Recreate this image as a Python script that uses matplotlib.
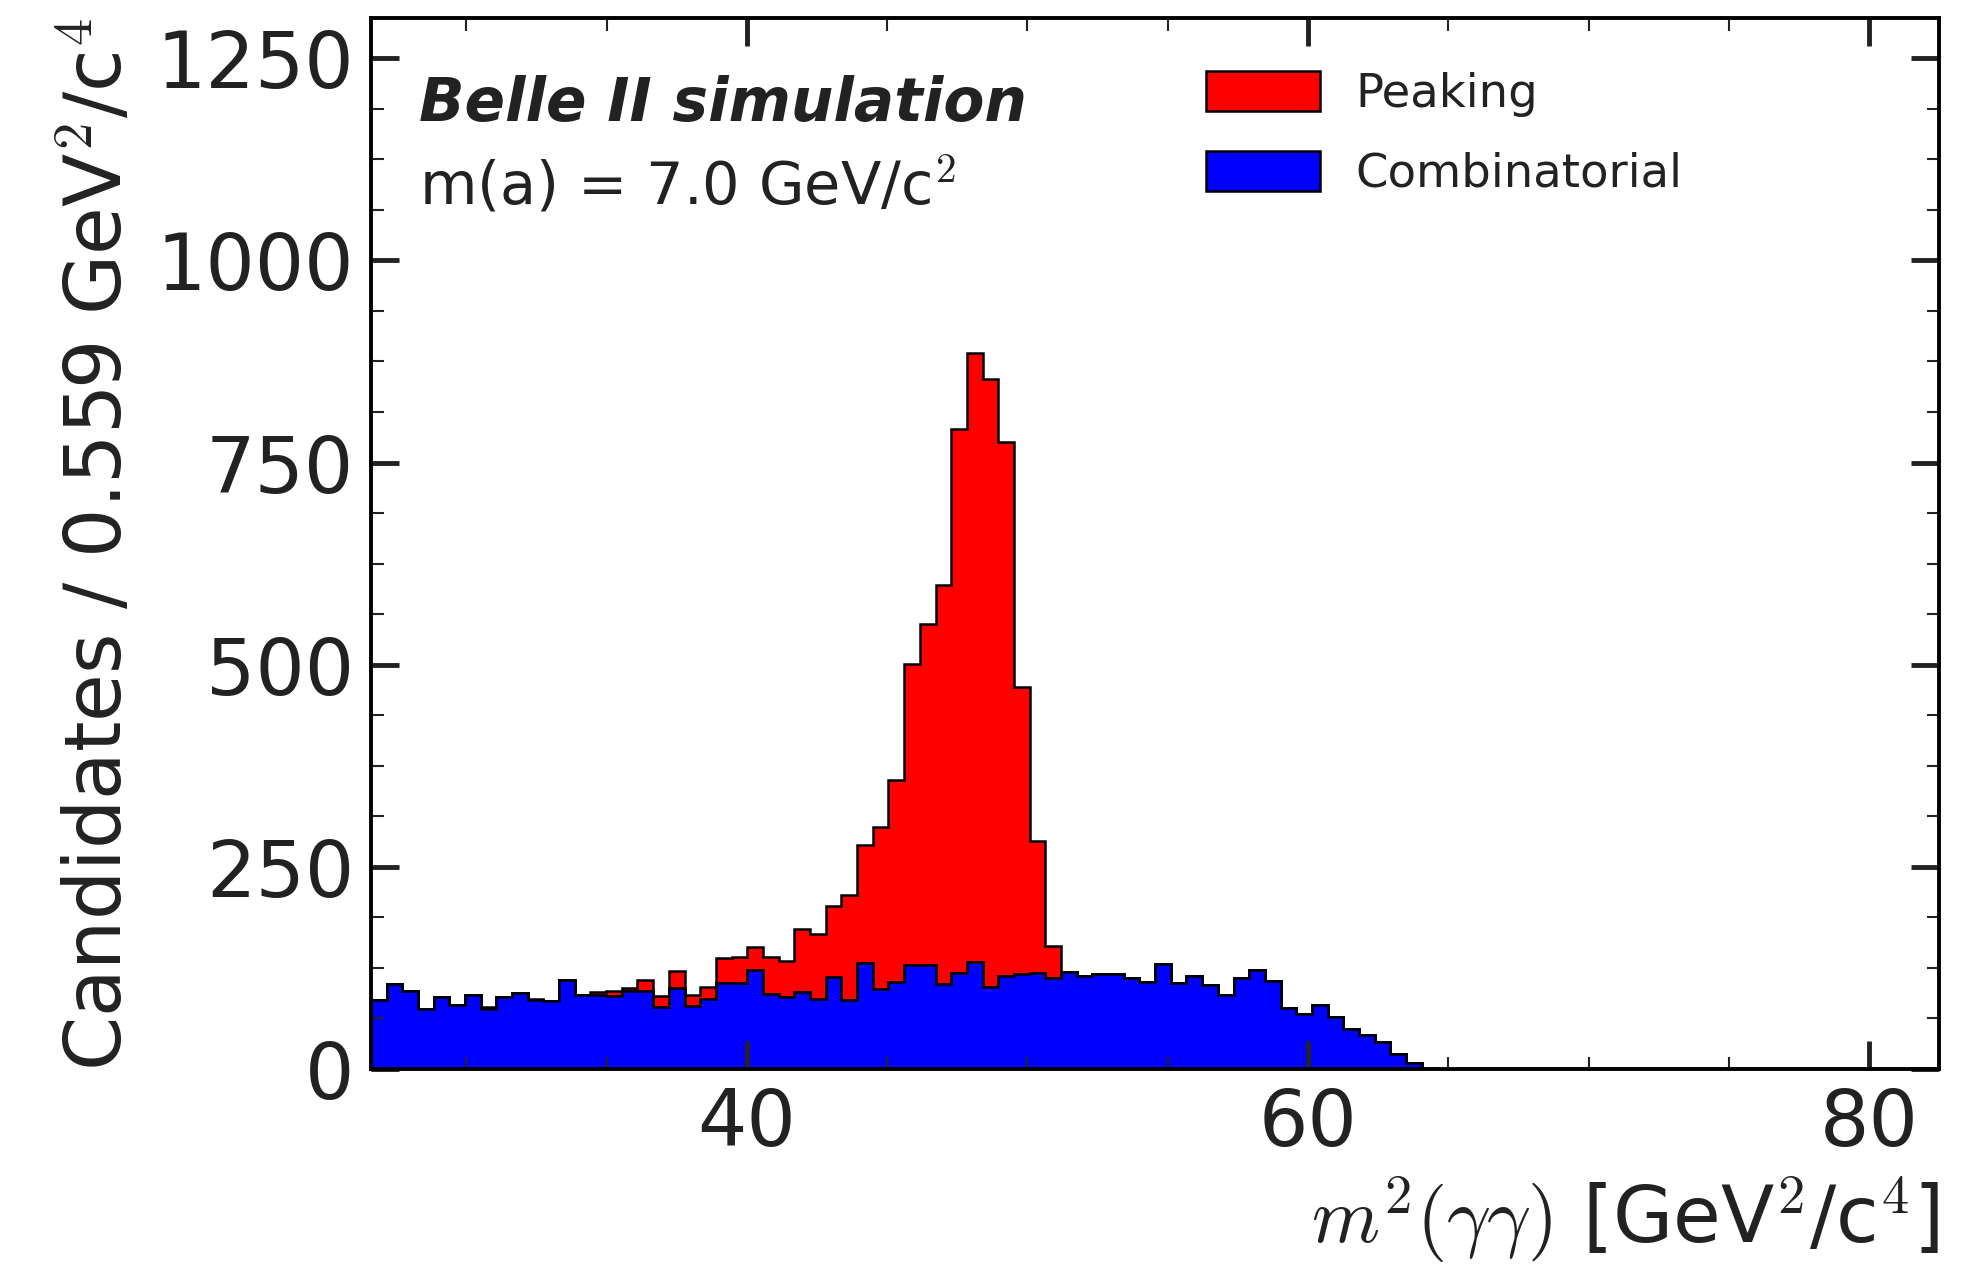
import numpy as np
import matplotlib
matplotlib.use("Agg")
import matplotlib.pyplot as plt
from matplotlib.ticker import MultipleLocator

plt.rcParams['font.family'] = ['DejaVu Sans']
plt.rcParams['mathtext.fontset'] = 'cm'

# binning: 100 bins of 0.559 GeV^2/c^4
x_lo = 26.6
bin_w = 0.559
n_bins = 100

# combinatorial background (bottom layer), read per bin
combinatorial = [85, 105, 96, 74, 89, 79, 92, 74, 89, 94,
                 85, 84, 110, 91, 91, 90, 96, 96, 77, 100,
                 78, 86, 106, 106, 122, 93, 89, 95, 87, 114,
                 85, 131, 99, 108, 128, 129, 105, 119, 132, 101,
                 115, 117, 119, 113, 120, 115, 117, 117, 113, 108,
                 130, 106, 115, 104, 91, 113, 122, 109, 76, 68,
                 79, 64, 50, 42, 33, 19, 7] + [0] * 33

# peaking component stacked on top
peaking = [0, 0, 0, 0, 0, 0, 0, 3, 0, 0,
           2, 0, 0, 0, 4, 7, 4, 14, 13, 21,
           13, 16, 31, 33, 29, 46, 45, 78, 80, 87,
           130, 146, 200, 250, 373, 421, 494, 673, 753, 752,
           660, 356, 163, 39] + [0] * 56

edges = x_lo + bin_w * np.arange(n_bins + 1)
centers = 0.5 * (edges[:-1] + edges[1:])

fig = plt.figure(figsize=(19.83, 12.69), dpi=100)
ax = fig.add_axes([0.187, 0.1576, 0.791, 0.8284])

ax.hist([centers, centers], bins=edges,
        weights=[combinatorial, peaking],
        stacked=True, histtype='stepfilled',
        color=['#0000ff', '#ff0000'], edgecolor='black', linewidth=1.8,
        label=['Combinatorial', 'Peaking'])

ax.set_xlim(edges[0], edges[-1])
ax.set_ylim(0, 1300)

txt = '#222222'
ax.xaxis.set_major_locator(MultipleLocator(20))
ax.xaxis.set_minor_locator(MultipleLocator(5))
ax.yaxis.set_major_locator(MultipleLocator(250))
ax.yaxis.set_minor_locator(MultipleLocator(62.5))
ax.tick_params(which='both', direction='in', top=True, right=True,
               colors=txt, labelcolor=txt)
ax.tick_params(which='major', length=20, width=3.5, labelsize=56, pad=12)
ax.tick_params(which='minor', length=9, width=1.5)
for s in ax.spines.values():
    s.set_linewidth(2.8)
    s.set_color('black')

ax.set_ylabel(r'Candidates / 0.559 GeV$^2$/c$^4$', fontsize=56, color=txt,
              loc='top', labelpad=13)
ax.set_xlabel(r'$m^2(\gamma\gamma)$ [GeV$^2$/c$^4$]', fontsize=56, color=txt,
              loc='right', labelpad=9)

ax.text(0.031, 0.902, 'Belle II simulation', transform=ax.transAxes,
        fontsize=43, fontweight='bold', fontstyle='italic', color=txt)
ax.text(0.031, 0.822, r'm(a) = 7.0 GeV/c$^2$', transform=ax.transAxes,
        fontsize=42.5, color=txt)

h, l = ax.get_legend_handles_labels()
ax.legend(h, l, loc='upper left', bbox_to_anchor=(0.506, 0.989),
          frameon=False, fontsize=33.5, handlelength=2.45, handleheight=0.95,
          labelspacing=0.72, handletextpad=0.75, labelcolor=txt)

fig.savefig('out.png', dpi=100)
